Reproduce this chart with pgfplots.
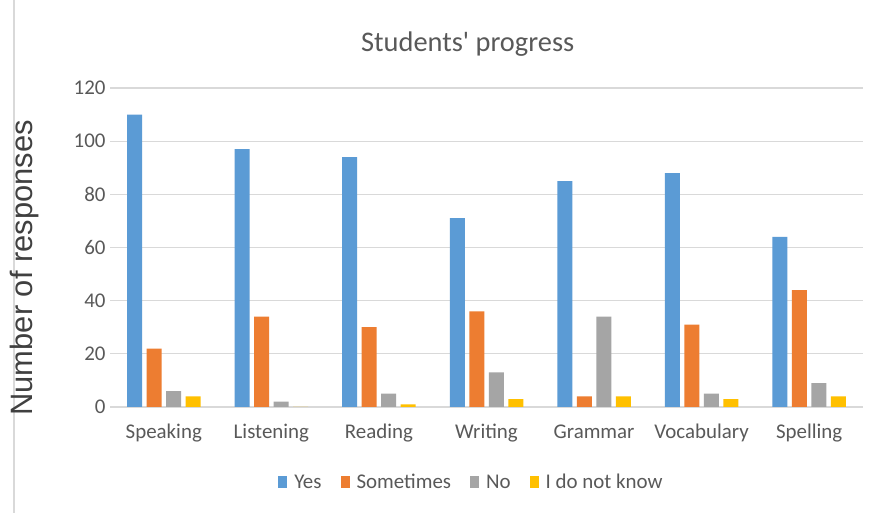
\documentclass[border=0pt]{standalone}
\usepackage{pgfplots}
\pgfplotsset{compat=1.18}
\usepackage{fontspec}
\setmainfont{Carlito}
\newfontfamily\arialf{Liberation Sans}
\definecolor{cYes}{HTML}{5B9BD5}
\definecolor{cSome}{HTML}{ED7D31}
\definecolor{cNo}{HTML}{A5A5A5}
\definecolor{cIdk}{HTML}{FFC000}
\definecolor{txt}{HTML}{595959}
\definecolor{grd}{HTML}{D9D9D9}
\begin{document}
\begin{tikzpicture}[x=1bp,y=1bp]
\useasboundingbox (0,0) rectangle (877,513);
\fill[white] (0,0) rectangle (877,513);
\draw[grd, line width=1.2bp] (14,0) -- (14,513);
\begin{axis}[
  at={(110bp,106bp)}, anchor=south west,
  scale only axis, width=753bp, height=319bp,
  ymin=0, ymax=120, ytick={0,20,...,120},
  xmin=-0.5, xmax=6.5, xtick={0,...,6},
  xticklabels={Speaking,Listening,Reading,Writing,Grammar,Vocabulary,Spelling},
  ybar=4.5bp, bar width=15bp,
  axis line style={draw=none},
  axis x line*=bottom, axis y line*=left,
  major tick length=0pt,
  ymajorgrids, grid style={grd, line width=1.2bp},
  extra y ticks={0}, extra y tick style={grid style={grd,line width=1.2bp}, yticklabels={}},
  tick label style={font=\fontsize{21}{24}\selectfont, text=txt},
  /pgf/number format/assume math mode=true,
  yticklabel style={xshift=-1bp},
  xticklabel style={yshift=-15bp, text height=13bp, text depth=4bp},
  title={\fontsize{28.5}{32}\selectfont Students\textquotesingle\ progress},
  title style={text=txt, at={(0.475,1)}, yshift=22bp},
  ylabel={\arialf\fontsize{31}{34}\selectfont Number of responses},
  ylabel style={text=black!75, at={(axis description cs:-0.113,0.436)}, anchor=center, rotate=0},
  legend style={at={(0.48,-0.24)}, anchor=center, draw=none, legend columns=4,
    font=\fontsize{21}{24}\selectfont, text=txt,
    nodes={text height=13bp, text depth=4bp},
    /tikz/every odd column/.append style={column sep=5bp},
    /tikz/every even column/.append style={column sep=17bp}},
  legend image code/.code={\fill[#1,draw=none] (0bp,-4bp) rectangle (9bp,8bp);},
  enlarge y limits=false,
  clip=false,
]
\addplot[fill=cYes, draw=none] coordinates {(0,110) (1,97) (2,94) (3,71) (4,85) (5,88) (6,64)};
\addplot[fill=cSome, draw=none] coordinates {(0,22) (1,34) (2,30) (3,36) (4,4) (5,31) (6,44)};
\addplot[fill=cNo, draw=none] coordinates {(0,6) (1,2) (2,5) (3,13) (4,34) (5,5) (6,9)};
\addplot[fill=cIdk, draw=none] coordinates {(0,4) (1,0) (2,1) (3,3) (4,4) (5,3) (6,4)};
\legend{Yes,Sometimes,No,I do not know}
\end{axis}
\end{tikzpicture}
\end{document}
